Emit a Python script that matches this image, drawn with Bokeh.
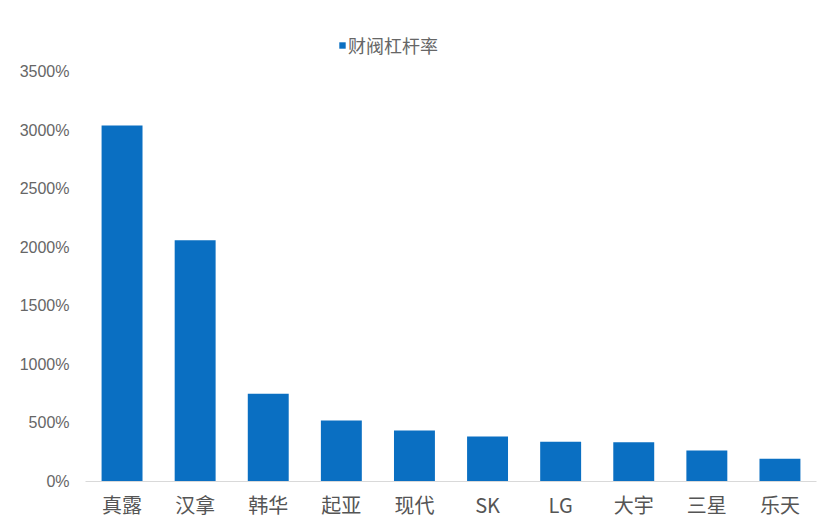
from bokeh.plotting import figure
from bokeh.models import (ColumnDataSource, FactorRange, FixedTicker,
                          PrintfTickFormatter, Legend, LegendItem, Range1d)
from bokeh.embed import file_html
from bokeh.resources import INLINE

# data
companies = ['真露', '汉拿', '韩华', '起亚', '现代', 'SK', 'LG', '大宇', '三星', '乐天']
leverage = [3040, 2060, 750, 520, 435, 385, 340, 335, 265, 195]
y_ticks = [0, 500, 1000, 1500, 2000, 2500, 3000, 3500]

src = ColumnDataSource(data=dict(company=companies, leverage=leverage))

# range goes a bit above 3500 to leave room for the legend inside the frame
p = figure(width=819, height=522, x_range=FactorRange(*companies),
           y_range=Range1d(0, 4004), output_backend="svg",
           toolbar_location=None, min_border_left=85, min_border_right=3,
           min_border_top=12, min_border_bottom=41)

r = p.vbar(x='company', top='leverage', width=0.56, source=src,
           color='#0a6fc2', line_color=None)

p.xgrid.visible = False
p.ygrid.visible = False
p.outline_line_color = None

p.yaxis.ticker = FixedTicker(ticks=y_ticks)
p.yaxis.formatter = PrintfTickFormatter(format='%d%%')
p.yaxis.axis_line_color = None
p.yaxis.major_tick_line_color = None
p.yaxis.minor_tick_line_color = None
p.yaxis.major_label_text_font = 'Liberation Sans'
p.yaxis.major_label_text_font_size = '16px'
p.yaxis.major_label_text_color = '#666666'
p.yaxis.major_label_standoff = 10

p.xaxis.axis_line_color = '#d9d9d9'
p.xaxis.major_tick_line_color = None
p.xaxis.minor_tick_line_color = None
p.xaxis.major_label_text_font = 'Noto Sans CJK SC'
p.xaxis.major_label_text_font_size = '20px'
p.xaxis.major_label_text_color = '#555555'
p.xaxis.major_label_standoff = 2

legend = Legend(items=[LegendItem(label='财阀杠杆率', renderers=[r])],
                orientation='horizontal', location=(253, 423),
                label_text_font='Noto Sans CJK SC', label_text_font_size='18px',
                label_text_color='#666666', glyph_width=8, glyph_height=8,
                label_standoff=2, border_line_color=None, padding=0,
                margin=0, label_height=20, background_fill_alpha=0)
p.add_layout(legend)

open("out.html", "w").write(file_html(p, INLINE))
